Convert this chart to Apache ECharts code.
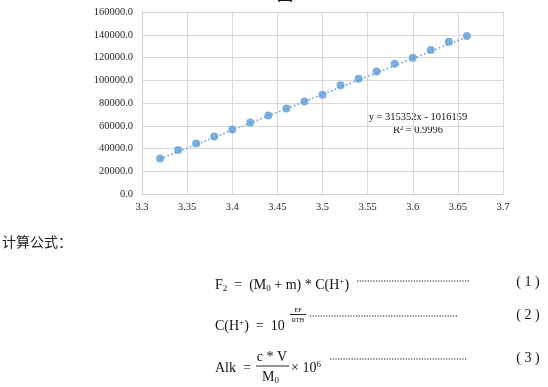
<!DOCTYPE html>
<html><head><meta charset="utf-8">
<script src="https://cdn.jsdelivr.net/npm/echarts@6/dist/echarts.min.js"></script>
<style>html,body{margin:0;padding:0;background:#fff}#c{width:548px;height:387px}</style>
</head><body><div id="c"></div>
<script>
// ---- data ----
const xValues = [3.32, 3.34, 3.36, 3.38, 3.40, 3.42, 3.44, 3.46, 3.48, 3.50, 3.52, 3.54, 3.56, 3.58, 3.60, 3.62, 3.64, 3.66];
const yValues = [31300, 38600, 44500, 50600, 56700, 62900, 69000, 75100, 81300, 87200, 95600, 101400, 107800, 114600, 119800, 126500, 133900, 138800];
const trendSlope = 315352;
const trendIntercept = -1016159;
const equationText = 'y = 315352x - 1016159';
const r2Text = 'R² = 0.9996';
const titleText = '图5';
const headingText = '计算公式：';
const eqNumbers = ['( 1 )', '( 2 )', '( 3 )'];

const serif = '"Liberation Serif", "Times New Roman", serif';
const points = xValues.map((x, i) => [x, yValues[i]]);
const x0 = xValues[0], x1 = xValues[xValues.length - 1];
const trend = [[x0, trendSlope * x0 + trendIntercept], [x1, trendSlope * x1 + trendIntercept]];

const ink = '#111';
const richBase = {
  n: { fontFamily: serif, fontSize: 14, lineHeight: 16, fill: ink },
  sub: { fontFamily: serif, fontSize: 9, lineHeight: 8, verticalAlign: 'bottom', fill: ink },
  sup: { fontFamily: serif, fontSize: 9, lineHeight: 8, verticalAlign: 'top', fill: ink }
};
function rt(x, y, text) {
  return { type: 'text', x: x, y: y, style: { text: text, rich: richBase, verticalAlign: 'middle', align: 'left', fill: ink, font: '14px ' + serif } };
}
function pt(x, y, text, size, align) {
  return { type: 'text', x: x, y: y, style: { text: text, font: size + 'px ' + serif, fill: ink, align: align || 'center', verticalAlign: 'middle' } };
}
function dots(xa, xb, y) {
  return { type: 'line', shape: { x1: xa, y1: y, x2: xb, y2: y }, style: { stroke: '#111', lineWidth: 1.2, lineDash: [1.2, 1.5] } };
}
function hline(xa, xb, y) {
  return { type: 'line', shape: { x1: xa, y1: y, x2: xb, y2: y }, style: { stroke: ink, lineWidth: 0.9 } };
}

const chart = echarts.init(document.getElementById('c'), null, { renderer: 'canvas' });
chart.setOption({
  animation: false,
  backgroundColor: '#fff',
  grid: { left: 142, top: 12, right: 45, height: 182 },
  xAxis: {
    type: 'value', min: 3.3, max: 3.7, interval: 0.05,
    axisLine: { show: true, lineStyle: { color: '#cfcfcf' } },
    axisTick: { show: false },
    splitLine: { show: true, lineStyle: { color: '#d9d9d9' } },
    axisLabel: { color: '#262626', fontFamily: serif, fontSize: 10.5, margin: 8 }
  },
  yAxis: {
    type: 'value', min: 0, max: 160000, interval: 20000,
    axisLine: { show: true, lineStyle: { color: '#cfcfcf' } },
    axisTick: { show: false },
    splitLine: { show: true, lineStyle: { color: '#d9d9d9' } },
    axisLabel: { color: '#262626', fontFamily: serif, fontSize: 10.5, margin: 9, formatter: v => v.toFixed(1) }
  },
  series: [
    { type: 'scatter', data: points, symbolSize: 8, itemStyle: { color: '#5B9BD5' }, z: 2 },
    { type: 'line', data: trend, showSymbol: false, symbol: 'none', lineStyle: { color: '#5B9BD5', width: 1.5, type: [1.5, 2.5] }, z: 3 }
  ],
  graphic: [
    { type: 'text', x: 277, y: 1.8, style: { text: titleText, font: 'bold 16px "Noto Sans CJK SC"', fill: ink, align: 'left', verticalAlign: 'bottom' } },
    pt(418, 117, equationText, 10.5),
    pt(418, 130, r2Text, 10.5),
    { type: 'text', x: 2, y: 242, style: { text: headingText, font: '14px "Noto Sans CJK SC"', fill: '#222', align: 'left', verticalAlign: 'middle' } },
    // formula 1
    rt(215, 285, '{n|F}{sub|2}{n|  =  (M}{sub|0}{n| + m) * C(H}{sup|+}{n|)}'),
    dots(357, 470, 281),
    pt(528, 282, eqNumbers[0], 14),
    // formula 2
    rt(215, 326, '{n|C(H}{sup|+}{n|)  =  10}'),
    pt(298, 310, 'EF', 6.5),
    hline(290, 306, 314.5),
    pt(298, 320, 'RTH', 6.5),
    dots(310, 458, 316),
    pt(528, 315, eqNumbers[1], 14),
    // formula 3
    rt(215, 368, '{n|Alk  =}'),
    pt(272, 357, 'c * V', 14),
    hline(256, 289, 366),
    rt(262, 377, '{n|M}{sub|0}'),
    rt(291, 368, '{n|× 10}{sup|6}'),
    dots(330, 467, 359),
    pt(528, 358, eqNumbers[2], 14)
  ]
});
</script>
</body></html>
